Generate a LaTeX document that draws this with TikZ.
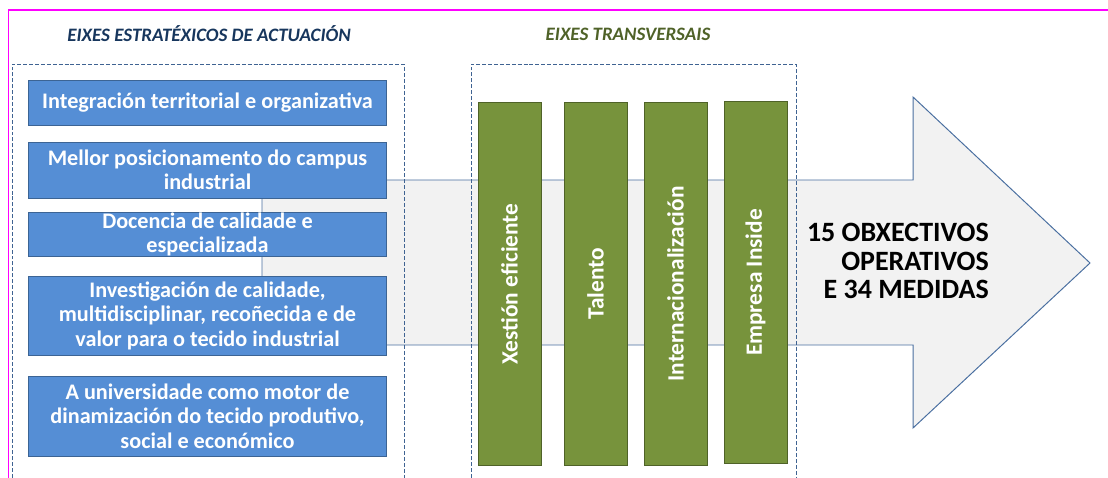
\documentclass[tikz,border=0pt]{standalone}
\usepackage{fontspec}
\setmainfont{Carlito}

\definecolor{boxblue}{HTML}{558ED5}
\definecolor{boxedge}{HTML}{3C6494}
\definecolor{barolive}{HTML}{77933C}
\definecolor{baredge}{HTML}{4F6228}
\definecolor{arrowfill}{HTML}{F2F2F2}
\definecolor{arrowedge}{HTML}{4A6FA0}
\definecolor{frameblue}{HTML}{3F6392}
\definecolor{titlenavy}{HTML}{17365D}
\definecolor{titleolive}{HTML}{4F6228}
\definecolor{pagemagenta}{HTML}{FF00FF}

\begin{document}
\begin{tikzpicture}[x=0.025cm, y=0.025cm]
			\tikzstyle{eixe}  = [rectangle, draw=boxedge, fill=boxblue, line width=0.7pt, minimum width=8.925cm, inner sep=0pt, align=center, text=white, font=\fontsize{15.8}{17.4}\selectfont\bfseries]
			\tikzstyle{transversal} = [rectangle, draw=baredge, fill=barolive, line width=0.7pt, minimum height=1.575cm, inner sep=0pt, rotate=90, text=white, font=\fontsize{16.6}{18}\selectfont\bfseries]
			\tikzstyle{frame} = [draw=frameblue, line width=0.6pt, dash pattern=on 2.8pt off 1.4pt]
			\tikzstyle{titulo} = [font=\fontsize{13.5}{15}\selectfont\bfseries\itshape]

			\useasboundingbox (0,0) rectangle (1108,-478);

%			frecha de fondo
			\draw[draw=arrowedge, fill=arrowfill, line width=0.7pt] (262,-180) -- (913,-180) -- (913,-97) -- (1090,-263) -- (913,-428) -- (913,-345) -- (262,-345) -- cycle;

			\draw[draw=pagemagenta, line width=1.4pt] (1108,-10) -- (8.5,-10) -- (8.5,-478);

			\node[titulo, text=titlenavy] (tit1) at (209,-34) {EIXES ESTRATÉXICOS DE ACTUACIÓN};
			\node[titulo, text=titleolive] (tit2) at (628,-34) {EIXES TRANSVERSAIS};

			\draw[frame] (12,-478) -- (12,-64) -- (404,-64) -- (404,-478);
			\draw[frame] (471,-478) -- (471,-64) -- (796,-64) -- (796,-478);

			\foreach \name/\y/\h/\texto in {e1/102.5/45/{Integración territorial e organizativa},
					e2/170/56/{Mellor posicionamento do campus\\industrial},
					e3/234.5/41/{Docencia de calidade e\\especializada},
					e4/315.5/79/{Investigación de calidade,\\multidisciplinar, recoñecida e de\\valor para o tecido industrial},
					e5/416/80/{A universidade como motor de\\dinamización do tecido produtivo,\\social e económico}}
				\node[eixe, minimum height=\h*0.025cm] (\name) at (207.5,-\y) {\texto};

			\foreach \name/\x/\y/\texto in {t1/509.5/284/Xestión eficiente, t2/595.5/284/Talento, t3/675.5/284/Internacionalización, t4/755.5/282.5/Empresa Inside}
				\node[transversal, minimum width=9.05cm] (\name) at (\x,-\y) {\texto};

			\node[anchor=east, align=right, inner sep=0pt, font=\fontsize{19.9}{20.2}\selectfont\bfseries] (obxectivos) at (989,-261) {15 OBXECTIVOS\\OPERATIVOS\\E 34 MEDIDAS};

		\end{tikzpicture}
\end{document}
